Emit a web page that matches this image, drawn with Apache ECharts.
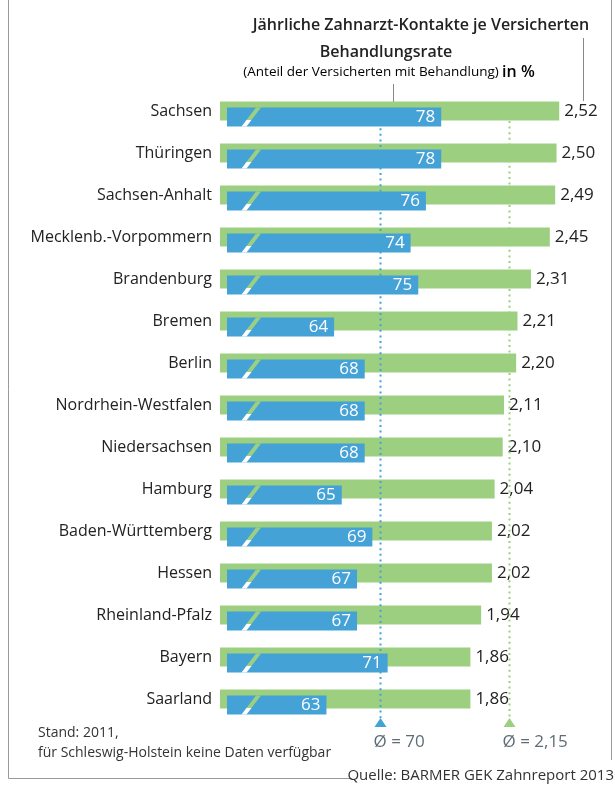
<!DOCTYPE html>
<html>
<head>
<meta charset="utf-8">
<script src="https://cdn.jsdelivr.net/npm/echarts@6/dist/echarts.min.js"></script>
<style>
  html, body { margin: 0; padding: 0; background: #fff; }
  #chart { width: 615px; height: 785px; }
</style>
</head>
<body>
<div id="chart"></div>
<script>
// Bundesländer, top to bottom
var states = ['Sachsen', 'Thüringen', 'Sachsen-Anhalt', 'Mecklenb.-Vorpommern', 'Brandenburg',
  'Bremen', 'Berlin', 'Nordrhein-Westfalen', 'Niedersachsen', 'Hamburg',
  'Baden-Württemberg', 'Hessen', 'Rheinland-Pfalz', 'Bayern', 'Saarland'];
// Jährliche Zahnarzt-Kontakte je Versicherten
var contacts = [2.52, 2.50, 2.49, 2.45, 2.31, 2.21, 2.20, 2.11, 2.10, 2.04, 2.02, 2.02, 1.94, 1.86, 1.86];
// Behandlungsrate in %
var rate = [78, 78, 76, 74, 75, 64, 68, 68, 68, 65, 69, 67, 67, 71, 63];
// Bundesdurchschnitte
var avgRate = 70;
var avgContacts = 2.15;

var GREEN = '#9ccf7f';
var BLUE = '#45a2d7';
var FONT = "'Open Sans', 'Noto Sans', sans-serif";
var deNum = function (v, d) { return v.toFixed(d).replace('.', ','); };

var chart = echarts.init(document.getElementById('chart'), null, { renderer: 'canvas' });

// Average marker: dotted line down to a triangle with the "Ø = …" caption
function avgRenderer(color, caption, startOffset, endOffset) {
  return function (params, api) {
    var v = api.value(0);
    var top = api.coord([v, 0]);
    var bottom = api.coord([v, states.length - 1]);
    var x = Math.round(top[0]) + 0.5;
    var y0 = top[1] + startOffset;
    var y1 = bottom[1] + endOffset;
    return {
      type: 'group',
      children: [
        { type: 'line', shape: { x1: x, y1: y0, x2: x, y2: y1 },
          style: { stroke: color, lineWidth: 2, lineDash: [2, 3.6] } },
        { type: 'polygon', shape: { points: [[x, y1], [x - 6, y1 + 9], [x + 6, y1 + 9]] },
          style: { fill: color } },
        { type: 'text', style: { text: caption, x: x - 7, y: y1 + 24, font: '17px ' + FONT,
          fill: '#5d6d78', textAlign: 'left', textVerticalAlign: 'middle' } }
      ]
    };
  };
}

var option = {
  animation: false,
  grid: [
    { left: 220, top: 90, width: 350, height: 630 },
    { left: 227, top: 96, width: 306, height: 630 }
  ],
  xAxis: [
    { gridIndex: 0, type: 'value', min: 0, max: 2.6, show: false },
    { gridIndex: 1, type: 'value', min: 50, max: 90, show: false }
  ],
  yAxis: [
    { gridIndex: 0, type: 'category', data: states, inverse: true,
      axisLine: { show: false }, axisTick: { show: false }, splitLine: { show: false },
      axisLabel: { margin: 8, fontSize: 16, color: '#222', fontFamily: FONT } },
    { gridIndex: 1, type: 'category', data: states, inverse: true, show: false }
  ],
  series: [
    {
      name: 'Kontakte', type: 'bar', xAxisIndex: 0, yAxisIndex: 0, z: 1,
      data: contacts, barWidth: 19, itemStyle: { color: GREEN },
      label: { show: true, position: 'right', distance: 5, fontSize: 17, color: '#222',
        fontFamily: FONT, formatter: function (p) { return deNum(p.value, 2); } }
    },
    {
      name: 'Ø Kontakte', type: 'custom', xAxisIndex: 0, yAxisIndex: 0, z: 2, clip: false,
      data: [[avgContacts, 0]], encode: { x: 0, y: 1 },
      renderItem: avgRenderer(GREEN, 'Ø = ' + deNum(avgContacts, 2), 10, 19)
    },
    {
      name: 'Ø Rate', type: 'custom', xAxisIndex: 1, yAxisIndex: 1, z: 2, clip: false,
      data: [[avgRate, 0]], encode: { x: 0, y: 1 },
      renderItem: avgRenderer(BLUE, 'Ø = ' + avgRate, 0, 13)
    },
    {
      name: 'Behandlungsrate', type: 'bar', xAxisIndex: 1, yAxisIndex: 1, z: 3,
      data: rate, barWidth: 19, itemStyle: { color: BLUE },
      label: { show: true, position: 'insideRight', distance: 6, fontSize: 17, color: '#fff',
        fontFamily: FONT }
    },
    {
      // axis-break slash across each blue bar
      name: 'Achsenbruch', type: 'custom', xAxisIndex: 1, yAxisIndex: 1, z: 4, clip: false,
      data: rate.map(function (v, i) { return [50, i]; }), encode: { x: 0, y: 1 },
      renderItem: function (params, api) {
        var p = api.coord([api.value(0), api.value(1)]);
        var x0 = p[0], yt = p[1] - 9.5, yb = p[1] + 9.5;
        return {
          type: 'polygon',
          shape: { points: [[x0 + 14.5, yb], [x0 + 19.5, yb], [x0 + 34, yt], [x0 + 29, yt]] },
          style: {
            fill: new echarts.graphic.LinearGradient(0, 0, 0, 1, [
              { offset: 0, color: GREEN }, { offset: 0.684, color: GREEN },
              { offset: 0.684, color: '#fff' }, { offset: 1, color: '#fff' }
            ])
          }
        };
      }
    }
  ],
  graphic: [
    // frame
    { type: 'line', shape: { x1: 8.5, y1: 0, x2: 8.5, y2: 778.5 }, style: { stroke: '#9a9a9a', lineWidth: 1 } },
    { type: 'line', shape: { x1: 8.5, y1: 778.5, x2: 352, y2: 778.5 }, style: { stroke: '#9a9a9a', lineWidth: 1 } },
    { type: 'line', shape: { x1: 611.5, y1: 0, x2: 611.5, y2: 760 }, style: { stroke: '#9a9a9a', lineWidth: 1 } },
    // leader lines from the headings
    { type: 'line', shape: { x1: 583.5, y1: 38, x2: 583.5, y2: 101 }, style: { stroke: '#888', lineWidth: 1 } },
    { type: 'line', shape: { x1: 393.5, y1: 84, x2: 393.5, y2: 107 }, style: { stroke: '#888', lineWidth: 1 } },
    // headings
    { type: 'text', style: { text: 'Jährliche Zahnarzt-Kontakte je Versicherten', x: 421, y: 25,
      font: '600 16px ' + FONT, fill: '#222', textAlign: 'center', textVerticalAlign: 'middle' } },
    { type: 'text', style: { text: 'Behandlungsrate', x: 386, y: 52,
      font: '600 16px ' + FONT, fill: '#222', textAlign: 'center', textVerticalAlign: 'middle' } },
    { type: 'text', style: { text: '{a|(Anteil der Versicherten mit Behandlung)} {b|in %}', x: 389, y: 72,
      textAlign: 'center', textVerticalAlign: 'middle',
      rich: {
        a: { fontSize: 13.5, fontFamily: FONT, color: '#333' },
        b: { fontSize: 16, fontWeight: 600, fontFamily: FONT, color: '#222' }
      } } },
    // footnotes
    { type: 'text', style: { text: 'Stand: 2011,', x: 38, y: 733,
      font: '14px ' + FONT, fill: '#333', textAlign: 'left', textVerticalAlign: 'middle' } },
    { type: 'text', style: { text: 'für Schleswig-Holstein keine Daten verfügbar', x: 38, y: 753,
      font: '14px ' + FONT, fill: '#333', textAlign: 'left', textVerticalAlign: 'middle' } },
    { type: 'text', style: { text: 'Quelle: BARMER GEK Zahnreport 2013', x: 614, y: 776,
      font: '15px ' + FONT, fill: '#333', textAlign: 'right', textVerticalAlign: 'middle' } }
  ]
};

chart.setOption(option);
</script>
</body>
</html>
